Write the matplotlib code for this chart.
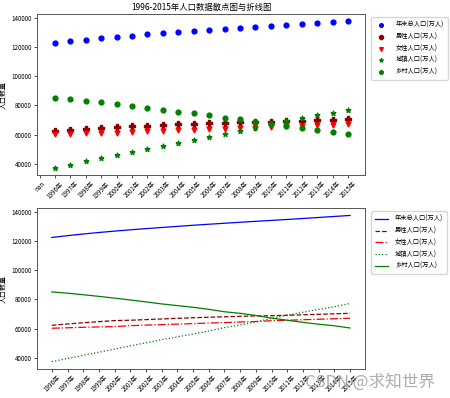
import matplotlib
matplotlib.use("Agg")
import matplotlib.pyplot as plt
import numpy as np

plt.rcParams['font.family'] = ['Noto Sans CJK SC', 'DejaVu Sans']
plt.rcParams['axes.unicode_minus'] = False

years = ['1996年', '1997年', '1998年', '1999年', '2000年', '2001年', '2002年', '2003年',
         '2004年', '2005年', '2006年', '2007年', '2008年', '2009年', '2010年', '2011年',
         '2012年', '2013年', '2014年', '2015年']
total = [122389, 123626, 124761, 125786, 126743, 127627, 128453, 129227, 129988, 130756,
         131448, 132129, 132802, 133450, 134091, 134735, 135404, 136072, 136782, 137462]
male = [62200, 63131, 63940, 64692, 65437, 65672, 66115, 66556, 66976, 67375,
        67728, 68048, 68357, 68647, 68748, 69068, 69395, 69728, 70079, 70414]
female = [60189, 60495, 60821, 61094, 61306, 61955, 62338, 62671, 63012, 63381,
          63720, 64081, 64445, 64803, 65343, 65667, 66009, 66344, 66703, 67048]
urban = [37304, 39449, 41608, 43748, 45906, 48064, 50212, 52376, 54283, 56212,
         58288, 60633, 62403, 64512, 66978, 69079, 71182, 73111, 74916, 77116]
rural = [85085, 84177, 83153, 82038, 80837, 79563, 78241, 76851, 75705, 74544,
         73160, 71496, 70399, 68938, 67113, 65656, 64222, 62961, 61866, 60346]
names = ['年末总人口(万人)', '男性人口(万人)', '女性人口(万人)', '城镇人口(万人)', '乡村人口(万人)']

# the scatter chart carries an extra empty "nan" category in front
xs_scatter = ['nan'] + years
def pad(v):
    return [np.nan] + list(v)

fig = plt.figure(figsize=(4.5, 3.98), dpi=100)
ax1 = fig.add_axes([0.082, 0.560, 0.729, 0.405])
ax2 = fig.add_axes([0.082, 0.073, 0.729, 0.404])

fs_tick = 4.5
ms = 12

ax1.scatter(xs_scatter, pad(total), marker='o', c='blue', s=ms, label=names[0])
ax1.scatter(xs_scatter, pad(male), marker='P', c='darkred', s=ms + 4, label=names[1])
ax1.scatter(xs_scatter, pad(female), marker='v', c='red', s=ms, label=names[2])
ax1.scatter(xs_scatter, pad(urban), marker='*', c='green', s=ms, label=names[3])
ax1.scatter(xs_scatter, pad(rural), marker='o', c='green', s=ms, label=names[4])
ax1.set_xlim(-0.17, 21.1)
ax1.set_title('1996-2015年人口数据散点图与折线图', fontsize=6, pad=3)
ax1.set_ylabel('人口数量', fontsize=5, labelpad=3)
ax1.legend(loc='upper left', bbox_to_anchor=(1.01, 1.0), fontsize=4.5,
           borderpad=0.6, labelspacing=0.6, handletextpad=1.3, markerscale=0.75)

ax2.plot(years, total, color='blue', linestyle='-', lw=0.9, label=names[0])
ax2.plot(years, male, color='darkred', linestyle='--', lw=0.9, label=names[1])
ax2.plot(years, female, color='red', linestyle='-.', lw=0.9, label=names[2])
ax2.plot(years, urban, color='green', linestyle=':', lw=0.9, label=names[3])
ax2.plot(years, rural, color='green', linestyle='-', lw=0.9, label=names[4])
ax2.set_ylabel('人口数量', fontsize=5, labelpad=3)
ax2.legend(loc='upper left', bbox_to_anchor=(1.01, 1.0), fontsize=4.5,
           borderpad=0.6, labelspacing=0.6, handletextpad=1.2)

for ax in (ax1, ax2):
    ax.tick_params(axis='both', labelsize=fs_tick, length=2, width=0.5, pad=1.5)
    for lab in ax.get_xticklabels():
        lab.set_rotation(45)
    for s in ax.spines.values():
        s.set_linewidth(0.7)
        s.set_color('#555555')

fig.text(0.967, 0.04, 'CSDN @求知世界', fontsize=12, color='#999999', alpha=0.8,
         ha='right', va='center')

fig.savefig('out.png', dpi=100)
